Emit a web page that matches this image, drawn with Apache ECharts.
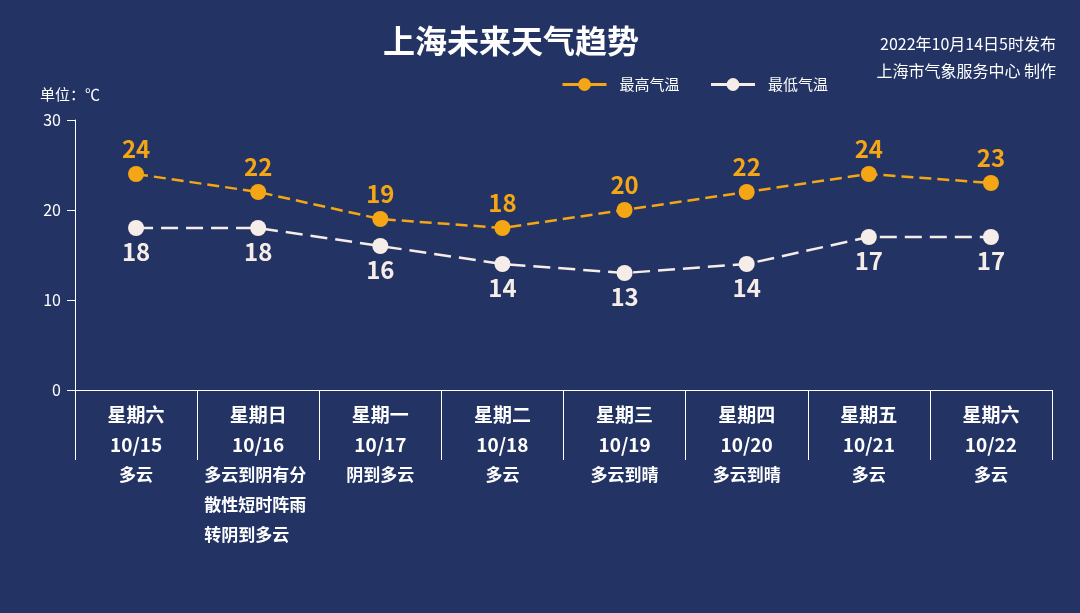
<!DOCTYPE html>
<html>
<head>
<meta charset="utf-8">
<script src="https://cdn.jsdelivr.net/npm/echarts@6/dist/echarts.min.js"></script>
<style>
html,body{margin:0;padding:0;background:#233464;}
#c{width:1080px;height:613px;}
</style>
</head>
<body>
<div id="c"></div>
<script>
var weekdays = ['星期六','星期日','星期一','星期二','星期三','星期四','星期五','星期六'];
var dates = ['10/15','10/16','10/17','10/18','10/19','10/20','10/21','10/22'];
var weather = ['多云','多云到阴有分\n散性短时阵雨\n转阴到多云','阴到多云','多云','多云到晴','多云到晴','多云','多云'];
var maxTemp = [24,22,19,18,20,22,24,23];
var minTemp = [18,18,16,14,13,14,17,17];
var yTicks = [0,10,20,30];

var FONT = '"Noto Sans CJK SC","Microsoft YaHei",sans-serif';
var ORANGE = '#f5a614';
var LIGHT = '#f7ede8';

var cats = weekdays.map(function(d,i){return i;});

var chart = echarts.init(document.getElementById('c'));
chart.setOption({
  backgroundColor:'#233464',
  title:[{
    text:'上海未来天气趋势',
    left:378, top:20,
    textStyle:{color:'#fff',fontSize:32,fontWeight:'bold',fontFamily:FONT}
  },{
    text:'2022年10月14日5时发布',
    right:19, top:31,
    textStyle:{color:'#fff',fontSize:16,fontWeight:'normal',fontFamily:FONT}
  },{
    text:'上海市气象服务中心 制作',
    right:19, top:58,
    textStyle:{color:'#fff',fontSize:16,fontWeight:'normal',fontFamily:FONT}
  }],
  legend:{
    left:556, top:72,
    itemWidth:44, itemHeight:16, itemGap:30,
    lineStyle:{type:'solid',width:3},
    textStyle:{color:'#fff',fontSize:15,fontFamily:FONT,padding:[0,0,0,8]},
    data:['最高气温','最低气温']
  },
  grid:{left:75,right:28,top:120,bottom:223,containLabel:false},
  xAxis:{
    type:'category',
    data:cats,
    boundaryGap:true,
    axisLine:{lineStyle:{color:'#fff',width:1}},
    axisTick:{show:true,length:70,alignWithLabel:false,lineStyle:{color:'#fff'}},
    axisLabel:{
      interval:0, margin:10, color:'#fff',
      formatter:function(v){
        var i = +v;
        var lines = weather[i].split('\n');
        var st = lines.length > 1 ? 'wl' : 'w';
        var w = lines.map(function(s){return '{'+st+'|'+s+'}';}).join('\n');
        return '{d|'+weekdays[i]+'}\n{d|'+dates[i]+'}\n'+w;
      },
      rich:{
        d:{color:'#fff',fontSize:19,fontWeight:'bold',lineHeight:30,fontFamily:FONT,align:'center'},
        w:{color:'#fff',fontSize:17,fontWeight:'bold',lineHeight:30,fontFamily:FONT,align:'center'},
        wl:{color:'#fff',fontSize:17,fontWeight:'bold',lineHeight:30,fontFamily:FONT,align:'left',padding:[0,0,0,-6]}
      }
    }
  },
  yAxis:{
    type:'value',
    min:yTicks[0], max:yTicks[yTicks.length-1], interval:10,
    name:'单位：℃',
    nameGap:18,
    nameTextStyle:{color:'#fff',fontSize:15,fontFamily:FONT,align:'center',padding:[0,10,0,0]},
    splitLine:{show:false},
    axisLine:{show:true,lineStyle:{color:'#fff',width:1}},
    axisTick:{show:true,length:8,lineStyle:{color:'#fff'}},
    axisLabel:{color:'#fff',fontSize:16,margin:14,fontFamily:FONT}
  },
  series:[{
    name:'最高气温',
    type:'line',
    data:maxTemp,
    symbol:'circle', symbolSize:16,
    itemStyle:{color:ORANGE},
    lineStyle:{color:ORANGE,width:2.5,type:[12,6]},
    label:{show:true,position:'top',distance:5,color:ORANGE,fontSize:24,fontWeight:'bold',fontFamily:FONT}
  },{
    name:'最低气温',
    type:'line',
    data:minTemp,
    symbol:'circle', symbolSize:16,
    itemStyle:{color:LIGHT},
    lineStyle:{color:LIGHT,width:2.5,type:[17,8]},
    label:{show:true,position:'bottom',distance:4,color:LIGHT,fontSize:24,fontWeight:'bold',fontFamily:FONT}
  }]
});
</script>
</body>
</html>
